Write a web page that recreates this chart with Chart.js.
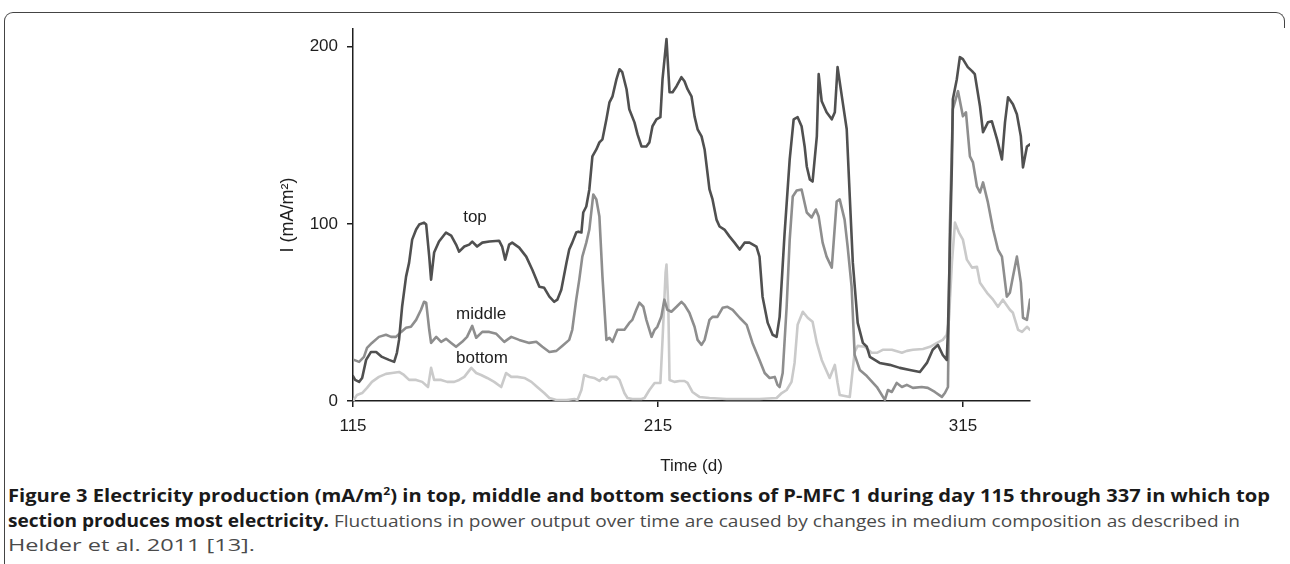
<!DOCTYPE html>
<html>
<head>
<meta charset="utf-8">
<script src="https://cdn.jsdelivr.net/npm/chart.js@4/dist/chart.umd.min.js"></script>
<style>
  html, body { margin: 0; padding: 0; background: #fff; }
  body { width: 1290px; height: 564px; position: relative; overflow: hidden; }
  #frame {
    position: absolute; left: 4px; top: 12px; width: 1279px; height: 600px;
    border-top: 1.5px solid #444; border-left: 1.5px solid #444; border-right: 1.5px solid #444;
    border-radius: 9px 9px 0 0;
  }
  #frameMask { position: absolute; right: 0; top: 28px; width: 12px; height: 540px; background: #fff; }
  #chartBox { position: absolute; left: 0; top: 0; width: 1290px; height: 480px; }
  #caption {
    position: absolute; left: 8px; top: 484px;
    font-family: "Open Sans", "Liberation Sans", sans-serif; font-size: 17px; line-height: 24.5px;
    color: #4a4a4a;
  }
  #caption .ln { white-space: nowrap; }
  #caption .ln span { display: inline-block; transform-origin: 0 50%; }
  #caption b { color: #1a1a1a; font-weight: 700; }
  #caption sup { font-size: 0.6em; line-height: 0; }
</style>
</head>
<body>
<div id="frame"></div>
<div id="frameMask"></div>
<div id="chartBox"><canvas id="chart"></canvas></div>
<div id="caption">
  <div class="ln"><span data-w="1262"><b>Figure 3 Electricity production (mA/m<sup>2</sup>) in top, middle and bottom sections of P-MFC 1 during day 115 through 337 in which top</b></span></div>
  <div class="ln"><span data-w="1232"><b>section produces most electricity.</b> Fluctuations in power output over time are caused by changes in medium composition as described in</span></div>
  <div class="ln"><span data-w="247">Helder et al. 2011 [13].</span></div>
</div>
<script>
// day / current density (mA/m2)
const topDays = [115, 115.7, 117, 118, 119.3, 120.9, 122.6, 124.5, 126.8, 128.5, 129.4, 130.1, 131.1, 132.4, 133.4, 134.4, 135.7, 136.7, 138.3, 139, 140, 140.6, 141.6, 143.2, 145.5, 147.2, 148.8, 149.8, 151.5, 153.1, 154.1, 155.7, 157.4, 159.7, 162.9, 163.9, 164.9, 166.2, 167.2, 169.5, 171.8, 173.8, 176.1, 177.7, 179.4, 181, 182, 183.3, 185, 185.9, 186.9, 188.2, 188.9, 189.9, 190.5, 191.5, 192.5, 193.5, 194.8, 195.8, 196.8, 198.1, 199.1, 200.1, 201.4, 202.4, 203.3, 204.7, 205.6, 207.3, 208.3, 209.6, 211.2, 212.2, 213.2, 214.5, 215.8, 216.5, 217.8, 218.8, 219.8, 221.1, 222.7, 223.7, 224.7, 226, 227, 228, 229.3, 230.3, 231.9, 232.9, 234.2, 235.2, 236.8, 238.5, 240.1, 241.8, 243.4, 245, 247.3, 248.3, 249.3, 251, 252.6, 253.9, 254.9, 256.5, 258.2, 259.5, 260.8, 262.1, 263.1, 263.8, 264.8, 265.7, 267.1, 267.7, 268.7, 270.3, 272, 273, 273.9, 275.3, 276.9, 277.9, 278.9, 280.5, 282.2, 283.5, 284.5, 287.7, 291, 294.3, 297.6, 300.9, 303.2, 305.1, 306.8, 308.4, 309.7, 310.1, 311.4, 311.7, 313, 314, 315, 316.6, 318, 318.9, 320.6, 321.6, 323.2, 324.5, 326.2, 327.8, 328.8, 329.8, 331.4, 332.7, 334, 334.7, 336, 337];
const topValues = [14, 11.9, 10.8, 13, 23.2, 27.7, 27.7, 24.9, 23.2, 22.1, 27.2, 34.5, 53.2, 70.2, 78.1, 91.1, 96.8, 99.6, 100.7, 99.6, 81.5, 68.5, 83.8, 90, 95.1, 93.4, 88.3, 84.3, 87.2, 88.3, 90, 87.2, 89.4, 90, 90.5, 87.2, 79.8, 88.3, 89.4, 86.6, 81.5, 74.1, 64.5, 63.9, 58.9, 56, 57.2, 62.8, 78.1, 85.5, 89.4, 95.1, 95.6, 95.1, 106.4, 109.8, 119.4, 138.1, 142, 146, 147.7, 159, 168.6, 172, 181.7, 187.3, 185.6, 176, 164.7, 157.3, 150.5, 143.7, 143.7, 146, 155.1, 159, 160.2, 181.7, 204.3, 174.3, 174.3, 177.7, 182.8, 180.5, 176, 172, 160.7, 153.4, 149.4, 142, 119.4, 113.8, 102.4, 98.5, 96.8, 92.8, 89.4, 85.5, 89.4, 89.4, 87.2, 81.5, 58.9, 44.1, 37.4, 36.2, 47.5, 93.9, 136.4, 159, 160.2, 155.1, 143.7, 132.4, 125.1, 123.9, 149.4, 184.5, 169.2, 163, 159, 163, 188.5, 172, 153.4, 115.4, 78.1, 44.1, 32.8, 30.6, 24.9, 21.5, 20.4, 18.7, 17.5, 16.4, 21.5, 28.9, 31.7, 26, 23.2, 40.2, 134.7, 170.3, 181.7, 194.1, 193, 188.5, 186.2, 184.5, 166.4, 151.7, 157.3, 157.9, 147.7, 136.4, 157.3, 171.5, 167.5, 161.9, 149.4, 131.9, 143.7, 144.9];

const middleDays = [115.3, 117, 118.6, 119.6, 121.2, 123.5, 125.8, 127.5, 129.1, 130.8, 132.4, 134, 135.7, 137.3, 138.3, 139, 140, 140.6, 142.3, 143.9, 145.5, 147.2, 148.8, 150.8, 152.4, 154.1, 155.4, 157.4, 159.7, 162, 164.6, 166.9, 169.5, 172.8, 175.1, 177.1, 179.4, 181.7, 183.6, 185.9, 186.9, 188.2, 189.2, 190.2, 191.5, 192.5, 193.5, 193.8, 194.8, 195.8, 196.8, 198.1, 199.1, 200.1, 201.7, 204, 205.6, 206.6, 207.9, 208.9, 210.2, 211.2, 212.9, 213.9, 214.8, 216.1, 217.1, 218.1, 219.4, 221.1, 222.7, 223.7, 225.3, 227, 228, 229.3, 230.3, 231.9, 232.9, 234.5, 236.2, 237.8, 239.5, 241.8, 244.1, 246, 248.3, 250, 251.6, 253.3, 254.2, 254.9, 255.9, 257.2, 258.2, 259.2, 260.5, 262.1, 263.8, 265.4, 266.8, 267.7, 269, 270.3, 272, 273.6, 274.6, 276.2, 277.2, 278.5, 279.5, 281.2, 283.5, 286.8, 289.4, 290.4, 291.7, 293.3, 295, 296.6, 298.6, 301.5, 303.5, 305.8, 308.1, 309.1, 310.1, 310.7, 311.7, 313.4, 315, 316, 317.3, 318.3, 319.6, 320.6, 321.6, 323.2, 324.9, 326.5, 327.8, 329.4, 330.4, 331.4, 332.7, 334, 334.7, 336, 337];
const middleValues = [23.2, 22.1, 24.9, 30, 32.8, 36.2, 37.4, 36.2, 36.2, 39, 41.3, 41.9, 45.8, 51.5, 56, 55.5, 40.2, 32.8, 36.2, 33.4, 35.1, 32.8, 30.6, 33.4, 36.2, 42.4, 35.7, 39, 39, 37.9, 33.4, 36.2, 34.5, 32.8, 33.4, 30.6, 27.7, 28.3, 31.1, 34.5, 40.2, 57.2, 68.5, 81.5, 89.4, 96.8, 112.1, 116.6, 113.8, 104.1, 70.2, 34.5, 35.7, 33.4, 40.2, 40.2, 44.1, 45.8, 51.5, 55.5, 53.2, 45.8, 36.2, 40.2, 41.9, 47.5, 57.2, 51.5, 50.4, 53.2, 56, 54.3, 49.8, 41.9, 34.5, 31.7, 34.5, 45.8, 47.5, 47.5, 52.6, 53.2, 51.5, 47, 43, 32.8, 23.2, 15.8, 13, 13.6, 9.1, 7.9, 15.8, 53.2, 91.1, 115.4, 118.8, 119.4, 106.4, 103.6, 108.1, 104.1, 89.4, 81.5, 75.3, 112.6, 113.8, 102.4, 87.2, 64.5, 26, 17.5, 14.1, 7.9, 0.6, 6.2, 5.1, 10.2, 7.9, 9.1, 7.4, 7.9, 7.4, 5.1, 2.3, 4.5, 7.9, 96.8, 164.7, 174.9, 160.7, 163, 138.1, 134.7, 121.1, 117.7, 123.4, 112.1, 96.8, 85.5, 81.5, 58.9, 61.1, 70.2, 81.5, 66.8, 47, 45.8, 57.2];

const bottomDays = [115, 116.3, 118, 119.6, 121.2, 123.5, 125.8, 127.8, 130.1, 131.7, 133.4, 135.7, 137.7, 139.6, 140.6, 141.6, 143.9, 145.9, 148.2, 149.8, 151.5, 153.8, 155.4, 157, 159, 161.3, 163.6, 165.2, 166.9, 168.9, 171.2, 173.5, 175.4, 177.7, 179.4, 181.7, 185, 187.6, 188.6, 189.9, 190.8, 192.5, 194.1, 195.8, 196.8, 198.1, 199.1, 201.4, 202.4, 204, 205, 206.6, 209.6, 210.6, 212.2, 213.9, 215.8, 216.5, 217.5, 217.8, 218.4, 218.8, 220.4, 222.1, 223.7, 224.7, 226.3, 228.6, 231.9, 237.5, 248.3, 253.9, 255.6, 257.2, 258.8, 259.8, 260.8, 262.5, 264.1, 265.7, 267.1, 268.7, 269.7, 271.3, 273, 273.9, 274.6, 277.9, 278.5, 279.5, 280.5, 282.8, 285.1, 286.8, 288.7, 291.7, 295, 296.6, 298.6, 301.9, 304.2, 306.5, 308.4, 309.7, 310.4, 311.4, 312.4, 313.7, 315, 316.3, 318, 319.6, 320.6, 322.9, 324.9, 326.5, 328.1, 330.4, 331.4, 332.1, 333.1, 334.4, 336, 337];
const bottomValues = [0, 3.4, 4.5, 7.4, 10.8, 13.6, 15.3, 15.8, 16.4, 14.7, 11.9, 11.9, 10.8, 7.9, 18.7, 11.9, 11.9, 10.8, 10.8, 11.9, 13.6, 18.7, 15.8, 14.7, 13, 10.8, 7.9, 15.8, 13.6, 13.6, 13, 10.8, 7.9, 4.5, 1.7, 0.6, 0.6, 1.1, 0.6, 6.2, 14.7, 13.6, 13, 11.3, 13, 11.9, 13.6, 13.6, 11.9, 4.5, 1.7, 1.1, 1.1, 1.7, 6.2, 10.2, 10.2, 34.5, 72.4, 77, 53.2, 11.9, 10.8, 11.3, 11.3, 10.2, 5.1, 2.3, 1.7, 1.1, 1.1, 1.7, 4.5, 6.2, 10.8, 21.5, 43, 50.4, 47, 44.7, 32.8, 23.2, 19.2, 13, 20.4, 10.2, 3.4, 2.3, 11.9, 27.7, 31.1, 30.6, 27.2, 27.2, 28.9, 28.9, 27.2, 28.3, 28.9, 29.4, 30.6, 32.8, 34.5, 37.4, 45.8, 78.1, 100.7, 95.1, 91.1, 79.8, 75.3, 75.8, 66.8, 61.1, 57.2, 53.2, 57.2, 51.5, 49.8, 45.8, 40.2, 39, 41.9, 40.2];

const xTicks = [115, 215, 315];
const yTicks = [0, 100, 200];
const seriesLabels = ['top', 'middle', 'bottom'];
// where each series name sits, in data units [day, value]
const labelSpots = [[155, 103.5], [157, 49], [157.3, 24]];

const colors = ['#505050', '#8e8e8e', '#cacaca'];
const font = "'Liberation Sans', Arial, sans-serif";
const ink = '#1e1e1e';

const pts = (xs, ys) => xs.map((x, i) => ({ x: x, y: ys[i] }));

// caption lines: stretch/squeeze each to the width it has in the figure
document.querySelectorAll('#caption .ln span').forEach(sp => {
  const k = Number(sp.dataset.w) / sp.getBoundingClientRect().width;
  sp.style.transform = 'scaleX(' + k.toFixed(4) + ')';
});

const seriesNames = {
  id: 'seriesNames',
  afterDatasetsDraw(chart) {
    const ctx = chart.ctx, xs = chart.scales.x, ys = chart.scales.y;
    ctx.save();
    ctx.font = '17px ' + font;
    ctx.fillStyle = ink;
    ctx.textAlign = 'center';
    ctx.textBaseline = 'middle';
    seriesLabels.forEach((t, i) => {
      ctx.fillText(t, xs.getPixelForValue(labelSpots[i][0]), ys.getPixelForValue(labelSpots[i][1]));
    });
    ctx.restore();
  }
};

const lineStyle = (c) => ({
  borderColor: c, backgroundColor: c, borderWidth: 2.6,
  pointRadius: 0, tension: 0, fill: false, borderJoinStyle: 'round', borderCapStyle: 'round'
});

new Chart(document.getElementById('chart'), {
  type: 'line',
  plugins: [seriesNames],
  data: {
    datasets: [
      { label: 'top', data: pts(topDays, topValues), ...lineStyle(colors[0]) },
      { label: 'middle', data: pts(middleDays, middleValues), ...lineStyle(colors[1]) },
      { label: 'bottom', data: pts(bottomDays, bottomValues), ...lineStyle(colors[2]) }
    ]
  },
  options: {
    responsive: true,
    maintainAspectRatio: false,
    animation: false,
    layout: { padding: { left: 258, right: 260, top: 29, bottom: 0 } },
    plugins: { legend: { display: false }, tooltip: { enabled: false } },
    scales: {
      x: {
        type: 'linear', min: 115, max: 337,
        afterBuildTicks: (s) => { s.ticks = xTicks.map(v => ({ value: v })); },
        afterFit: (s) => { s.height = 79; },
        grid: { drawOnChartArea: false, drawTicks: true, tickLength: 6, color: ink, lineWidth: 1.5 },
        border: { color: ink, width: 1.5 },
        ticks: { color: ink, padding: 9, maxRotation: 0, autoSkip: false, font: { family: font, size: 17 } },
        title: { display: true, text: 'Time (d)', color: ink, padding: { top: 0, bottom: 3 }, font: { family: font, size: 17 } }
      },
      y: {
        type: 'linear', min: 0, max: 210,
        afterBuildTicks: (s) => { s.ticks = yTicks.map(v => ({ value: v })); },
        afterFit: (s) => { s.width = 95; },
        grid: { drawOnChartArea: false, drawTicks: true, tickLength: 6, color: ink, lineWidth: 1.5 },
        border: { color: ink, width: 1.5 },
        ticks: { color: ink, padding: 9, font: { family: font, size: 17 } },
        title: { display: true, text: 'I (mA/m\u00b2)', color: ink, padding: { top: 19, bottom: 0 }, font: { family: font, size: 18 } }
      }
    }
  }
});
</script>
</body>
</html>
